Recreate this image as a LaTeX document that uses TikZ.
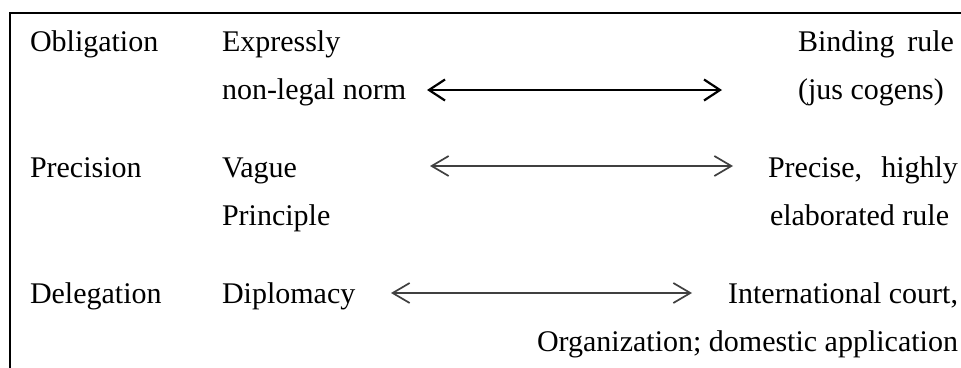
\documentclass[tikz,border=0pt]{standalone}
\usepackage{fontspec}
\setmainfont{Liberation Serif}
\usetikzlibrary{arrows.meta}
\begin{document}
\begin{tikzpicture}[x=1pt,y=-1pt,
  txt/.style={inner sep=0pt, outer sep=0pt, font=\fontsize{30}{36}\selectfont},
  lft/.style={txt, anchor=base west},
  rgt/.style={txt, anchor=base east},
  bigarrow/.style={line width=2.2pt, black,
    {Straight Barb[length=16pt,width=21pt,line width=2.2pt]}-{Straight Barb[length=16pt,width=21pt,line width=2.2pt]}},
  thinarrow/.style={line width=1.7pt, black!75,
    {Straight Barb[length=17pt,width=20pt,line width=1.7pt]}-{Straight Barb[length=17pt,width=20pt,line width=1.7pt]}},
  frame/.style={line width=2.8pt, black}
]
\useasboundingbox (0,0) rectangle (961,367);
% open frame (continues past the right and bottom edges)
\draw[frame] (10,370) -- (10,13) -- (965,13);

% left column
\node[lft] (obl) at (30,51) {Obligation};
\node[lft] (pre) at (30,177) {Precision};
\node[lft] (del) at (30,303) {Delegation};

% middle column
\node[lft] (expr) at (222,51) {Expressly};
\node[lft] (nonlegal) at (222,99) {non-legal norm};
\node[lft] (vague) at (222,177) {Vague};
\node[lft] (princ) at (222,225) {Principle};
\node[lft] (dipl) at (222,303) {Diplomacy};

% right column
\node[lft] (bind) at (798,51) {\makebox[156pt][s]{Binding rule}};
\node[lft] (jus) at (798,99) {(jus cogens)};
\node[lft] (precise) at (768,177) {\makebox[190pt][s]{Precise, highly}};
\node[lft] (elab) at (770,225) {elaborated rule};
\node[rgt] (intl) at (958,303) {International court,};
\node[rgt] (org) at (958,351) {Organization; domestic application};

% arrow end points
\coordinate (a1l) at (427,90);
\coordinate (a1r) at (722,90);
\coordinate (a2l) at (430,166);
\coordinate (a2r) at (733,166);
\coordinate (a3l) at (391,293);
\coordinate (a3r) at (692,293);

\draw[bigarrow] (a1l) -- (a1r);
\draw[thinarrow] (a2l) -- (a2r);
\draw[thinarrow] (a3l) -- (a3r);
\end{tikzpicture}
\end{document}
